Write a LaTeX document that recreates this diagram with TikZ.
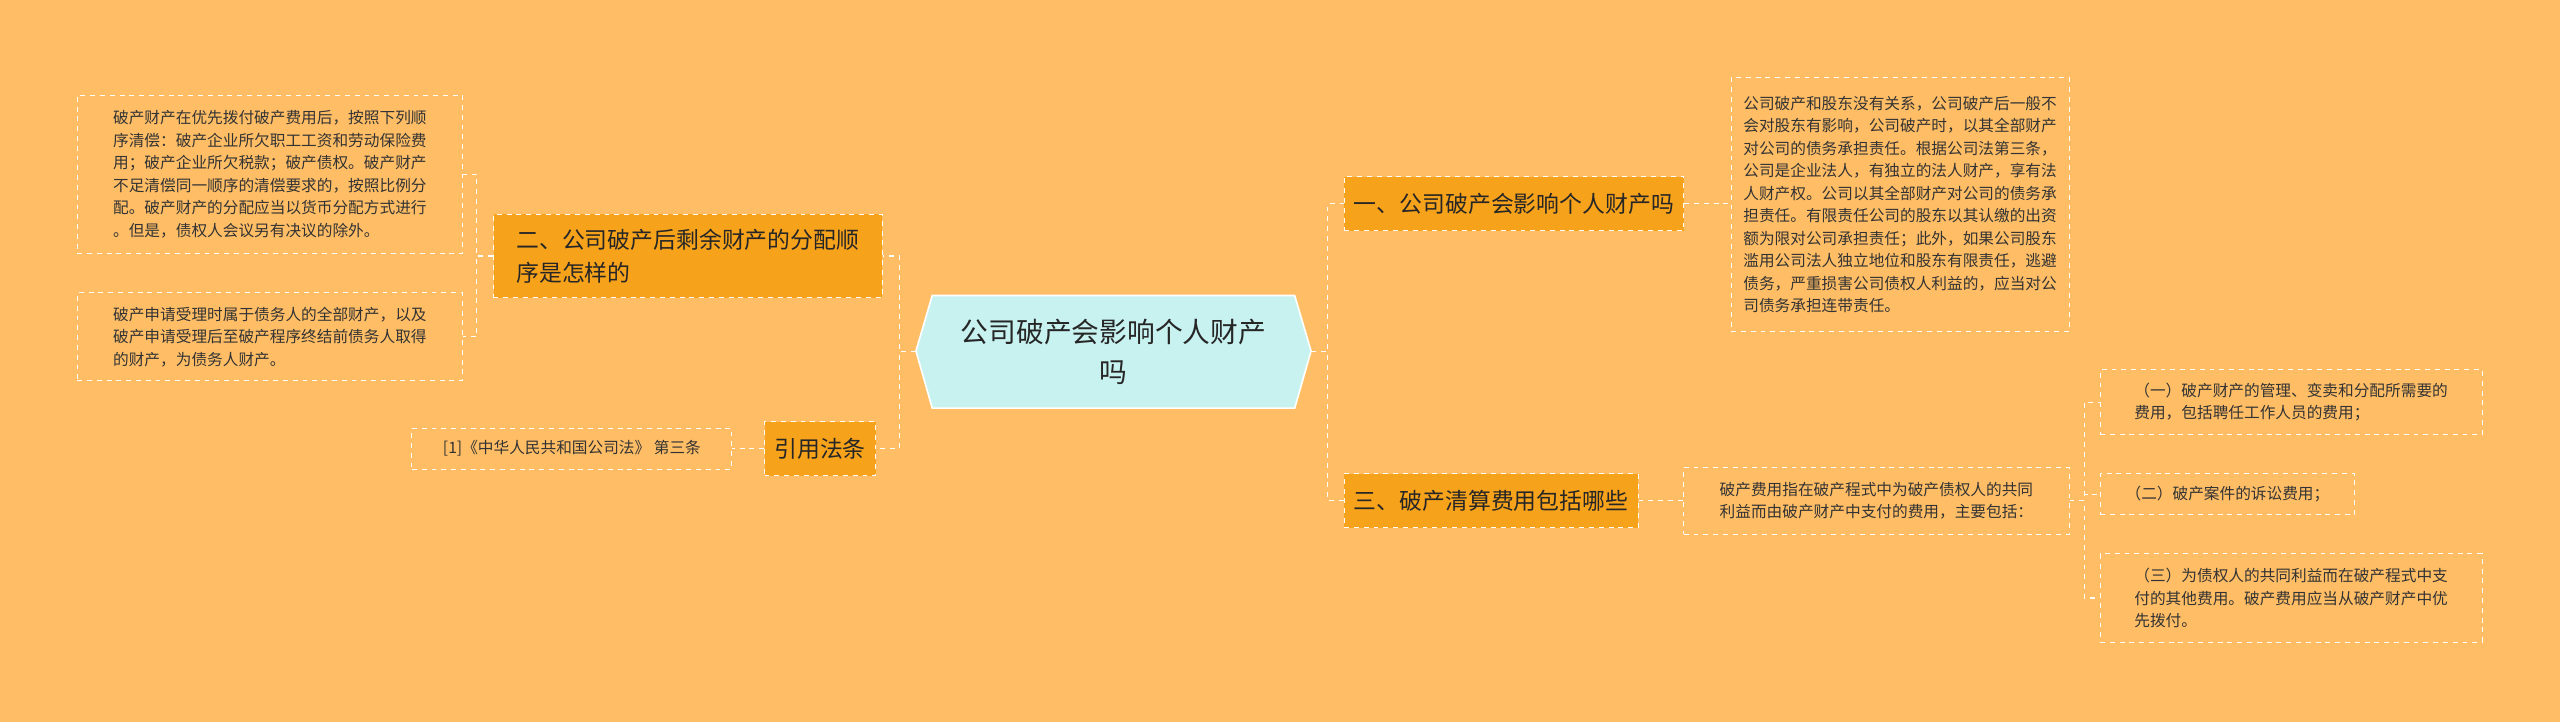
\documentclass[tikz,border=0pt]{standalone}
\usepackage{fontspec}
\setmainfont{Noto Sans CJK SC}
\begin{document}
\begin{tikzpicture}[x=1pt,y=-1pt,
  conn/.style={draw=white,dashed,line width=0.7pt},
  txt/.style={draw=white,dashed,line width=0.6pt,anchor=north west,inner sep=5pt,align=left,font=\fontsize{9.6}{13.8}\selectfont,text=black!80,minimum height=#1},
  br/.style={draw=white,dashed,line width=0.6pt,fill=orng,anchor=north west,inner sep=6pt,align=left,font=\fontsize{14}{20}\selectfont,text=black!85,minimum height=#1},
]
\definecolor{bg}{HTML}{FFBE66}
\definecolor{orng}{HTML}{F7A21B}
\fill[bg] (0,0) rectangle (1568,442);
\useasboundingbox (0,0) rectangle (1568,442);
% center
\fill[fill={rgb,255:red,200;green,242;blue,240},draw=white,line width=1pt] (561,215)--(571,181)--(793,181)--(803,215)--(793,250)--(571,250)--cycle;
\node[align=center,font=\fontsize{17}{25}\selectfont,text=black!85,minimum width=242pt,minimum height=69pt,inner sep=0pt] (c) at (682,215.5) {公司破产会影响个人财产\\吗};
% left branches
\node[br=51pt,minimum width=238pt] (b2) at (302,131) {二、公司破产后剩余财产的分配顺\\序是怎样的};
\node[br=33pt] (ref) at (468,258) {引用法条};
\node[txt=97pt,minimum width=236pt] (l1) at (47,58) {破产财产在优先拨付破产费用后，按照下列顺\\序清偿：破产企业所欠职工工资和劳动保险费\\用；破产企业所欠税款；破产债权。破产财产\\不足清偿同一顺序的清偿要求的，按照比例分\\配。破产财产的分配应当以货币分配方式进行\\。但是，债权人会议另有决议的除外。};
\node[txt=54pt,minimum width=236pt] (l2) at (47,179) {破产申请受理时属于债务人的全部财产，以及\\破产申请受理后至破产程序终结前债务人取得\\的财产，为债务人财产。};
\node[txt=25pt,minimum width=196pt] (r0) at (252,262) {[1]《中华人民共和国公司法》 第三条};
% right branches
\node[br=33pt] (b1) at (823,108) {一、公司破产会影响个人财产吗};
\node[br=33pt] (b3) at (823,290) {三、破产清算费用包括哪些};
\node[txt=156pt,minimum width=207pt] (t1) at (1060,47) {公司破产和股东没有关系，公司破产后一般不\\会对股东有影响，公司破产时，以其全部财产\\对公司的债务承担责任。根据公司法第三条，\\公司是企业法人，有独立的法人财产，享有法\\人财产权。公司以其全部财产对公司的债务承\\担责任。有限责任公司的股东以其认缴的出资\\额为限对公司承担责任；此外，如果公司股东\\滥用公司法人独立地位和股东有限责任，逃避\\债务，严重损害公司债权人利益的，应当对公\\司债务承担连带责任。};
\node[txt=41pt,minimum width=236pt] (t3) at (1031,286) {破产费用指在破产程式中为破产债权人的共同\\利益而由破产财产中支付的费用，主要包括：};
\node[txt=40pt,minimum width=234pt] (s1) at (1286,226) {（一）破产财产的管理、变卖和分配所需要的\\费用，包括聘任工作人员的费用；};
\node[txt=25pt,minimum width=156pt] (s2) at (1286,290) {（二）破产案件的诉讼费用；};
\node[txt=54pt,minimum width=234pt] (s3) at (1286,339) {（三）为债权人的共同利益而在破产程式中支\\付的其他费用。破产费用应当从破产财产中优\\先拨付。};
% connectors
\draw[conn] (c.west) -- ++(-10,0) |- (b2.east);
\draw[conn] (c.west) -- ++(-10,0) |- (ref.east);
\draw[conn] (b2.west) -- ++(-10,0) |- (l1.east);
\draw[conn] (b2.west) -- ++(-10,0) |- (l2.east);
\draw[conn] (ref.west) -- (r0.east);
\draw[conn] (c.east) -- ++(10,0) |- (b1.west);
\draw[conn] (c.east) -- ++(10,0) |- (b3.west);
\draw[conn] (b1.east) -- (b1.east -| t1.west);
\draw[conn] (b3.east) -- (b3.east -| t3.west);
\draw[conn] (t3.east) -- ++(9,0) |- (s1.west);
\draw[conn] (t3.east) -- ++(9,0) |- (s2.west);
\draw[conn] (t3.east) -- ++(9,0) |- (s3.west);
\end{tikzpicture}
\end{document}
